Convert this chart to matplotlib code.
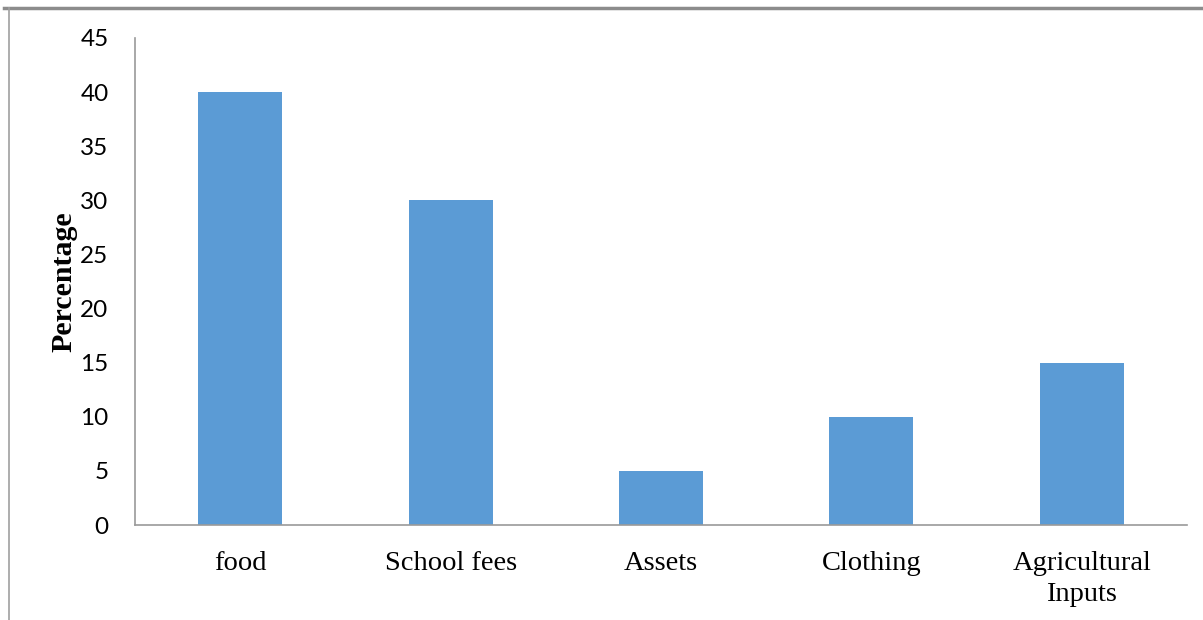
import matplotlib.pyplot as plt
from matplotlib.lines import Line2D

# Data
categories = ['food', 'School fees', 'Assets', 'Clothing', 'Agricultural\nInputs']
percentages = [40, 30, 5, 10, 15]
y_ticks = [0, 5, 10, 15, 20, 25, 30, 35, 40, 45]

fig = plt.figure(figsize=(12.03, 6.2), dpi=100)
ax = fig.add_axes([135 / 1203, 95 / 620, 1052 / 1203, 487 / 620])

x = range(len(categories))
ax.bar(x, percentages, width=0.4, color='#5B9BD5')

ax.set_xlim(-0.5, len(categories) - 0.5)
ax.set_ylim(0, 45)
ax.set_yticks(y_ticks)
ax.set_xticks(list(x))
ax.set_xticklabels(categories, fontfamily='Liberation Serif', fontsize=20.5,
                   linespacing=1.32)
for lbl in ax.get_yticklabels():
    lbl.set_fontfamily('Lato')
    lbl.set_fontsize(17.5)

ax.tick_params(axis='y', length=0, pad=19)
ax.tick_params(axis='x', length=0, pad=18.5)

for side in ['top', 'right']:
    ax.spines[side].set_visible(False)
for side in ['left', 'bottom']:
    ax.spines[side].set_color('#9a9a9a')
    ax.spines[side].set_linewidth(1.2)

ax.set_ylabel('Percentage', fontfamily='Liberation Serif', fontweight='bold',
              fontsize=21.5)
ax.yaxis.set_label_coords(-0.055, 0.5)

# page border lines around the figure
fig.add_artist(Line2D([4 / 1203, 1.0], [1 - 7.5 / 620, 1 - 7.5 / 620],
                      color='#8c8c8c', linewidth=2.5, transform=fig.transFigure))
fig.add_artist(Line2D([8.5 / 1203, 8.5 / 1203], [0, 1 - 8 / 620],
                      color='#a0a0a0', linewidth=1.2, transform=fig.transFigure))

fig.savefig('out.png', dpi=100)
